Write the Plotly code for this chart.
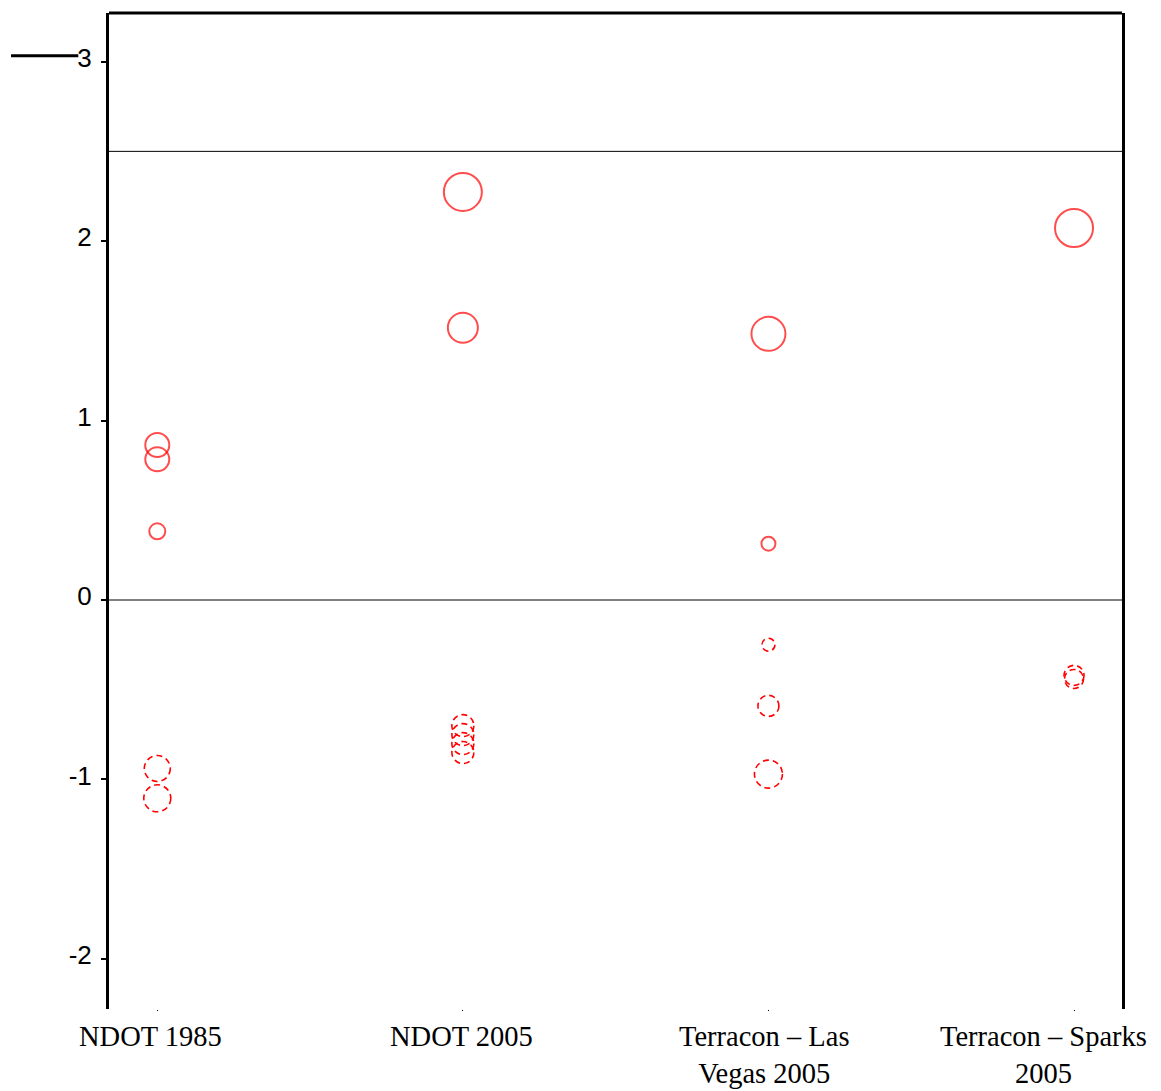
import plotly.graph_objects as go

# ---- data ----
categories = ["NDOT 1985", "NDOT 2005", "Terracon – Las<br>Vegas 2005", "Terracon – Sparks<br>2005"]

# positive residuals (solid circles)
pos_cat = [0, 0, 0, 1, 1, 2, 2, 3]
pos_val = [0.864, 0.784, 0.383, 2.274, 1.517, 1.483, 0.314, 2.073]
pos_size = [24, 24, 16, 38, 30, 34, 14, 38]

# negative residuals (dashed circles)
neg_cat = [0, 0, 1, 1, 1, 1, 2, 2, 2, 3, 3]
neg_val = [-0.939, -1.105, -0.70, -0.75, -0.80, -0.85, -0.249, -0.590, -0.970, -0.42, -0.44]
neg_size = [26, 27, 22, 22, 22, 22, 13, 21, 28, 20, 19]

y_ticks = [-2, -1, 0, 1, 2, 3]
ref_lines = [0, 2.5]
label_shift = [-7, -1, -4, -31]

RED = "#ff0000"
fig = go.Figure()

fig.add_trace(go.Scatter(
    x=pos_cat, y=pos_val, mode="markers",
    marker=dict(symbol="circle-open", size=pos_size, color=RED, line=dict(width=2, color=RED)),
    hoverinfo="y", showlegend=False,
))

# invisible anchor for negatives (hover)
fig.add_trace(go.Scatter(
    x=neg_cat, y=neg_val, mode="markers",
    marker=dict(size=neg_size, color="rgba(0,0,0,0)"),
    hoverinfo="y", showlegend=False,
))

shapes = []
for c, v, s in zip(neg_cat, neg_val, neg_size):
    r = s / 2
    shapes.append(dict(
        type="circle", xref="x", yref="y", xsizemode="pixel", ysizemode="pixel",
        xanchor=c, yanchor=v, x0=-r, x1=r, y0=-r, y1=r,
        line=dict(color=RED, width=1.6, dash="6px,4px"), layer="above",
    ))

for yv in ref_lines:
    shapes.append(dict(type="line", xref="paper", yref="y", x0=0, x1=1, y0=yv, y1=yv,
                       line=dict(color="black", width=1), layer="below"))

# top frame line
shapes.append(dict(type="line", xref="paper", yref="paper", x0=0, x1=1, y0=1, y1=1,
                   line=dict(color="black", width=3)))
# stray line at top-left
shapes.append(dict(type="line", xref="paper", yref="y", x0=-0.0967, x1=-0.0303, y0=3.033, y1=3.033,
                   line=dict(color="black", width=3)))

annotations = []
for i, (lab, dx) in enumerate(zip(categories, label_shift)):
    annotations.append(dict(
        x=i, y=0, xref="x", yref="paper", text=lab, showarrow=False,
        xanchor="center", yanchor="top", yshift=-10, xshift=dx,
        font=dict(family="Times New Roman, Liberation Serif, serif", size=28.5, color="black"),
    ))

fig.update_layout(
    width=1161, height=1091,
    margin=dict(l=109, r=39, t=13, b=82),
    paper_bgcolor="white", plot_bgcolor="white",
    shapes=shapes, annotations=annotations,
    xaxis=dict(range=[-0.158, 3.157], showgrid=False, zeroline=False, showline=False,
               tickvals=[0, 1, 2, 3], showticklabels=False, ticks="outside", ticklen=1,
               tickwidth=1, tickcolor="black"),
    yaxis=dict(range=[-2.279, 3.271], showgrid=False, zeroline=False,
               showline=True, linecolor="black", linewidth=3, mirror=True,
               tickvals=y_ticks, ticktext=[str(t) for t in y_ticks],
               ticks="outside", ticklen=5, tickwidth=1.5, tickcolor="black",
               ticklabelstandoff=4, ticklabelshift=-4,
               tickfont=dict(family="Arial, Liberation Sans, sans-serif", size=26, color="black")),
)

fig.write_html("out.html")
